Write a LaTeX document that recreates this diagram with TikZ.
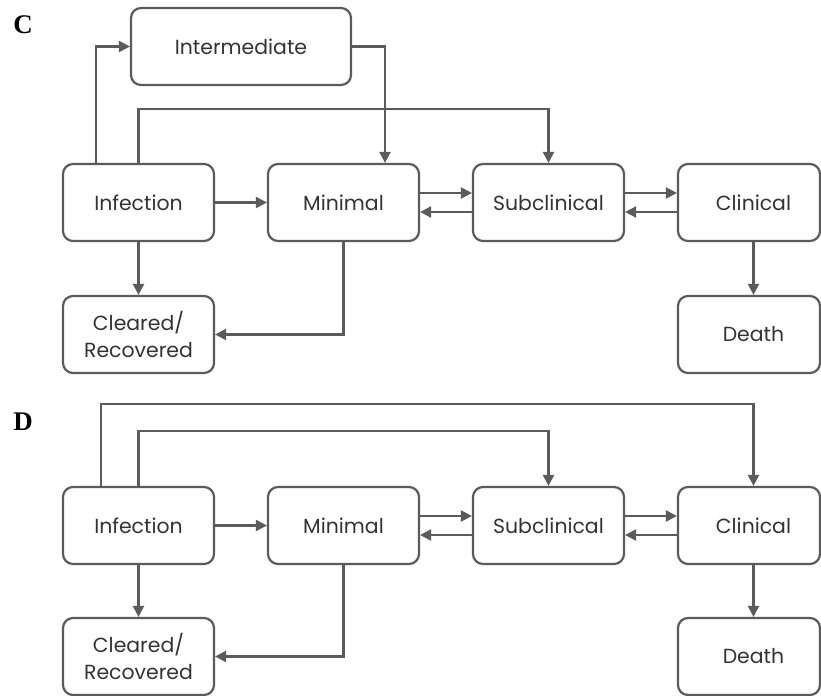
\documentclass[tikz,border=0pt]{standalone}
\usepackage{fontspec}
\setmainfont{Poppins}
\newfontfamily\panelfont{Liberation Serif}
\usetikzlibrary{arrows.meta}
\definecolor{linegray}{HTML}{5B5B5B}
\definecolor{textgray}{HTML}{333333}
\tikzset{
  box/.style={draw=linegray, line width=2.2bp, rounded corners=10bp, rectangle,
    minimum width=151bp, minimum height=77bp, align=center, inner sep=0pt,
    text=textgray, font=\fontsize{20.5}{28}\selectfont},
  narrowbox/.style={box, minimum width=142bp},
  arr/.style={draw=linegray, line width=2.2bp, -{Triangle[length=11bp,width=11bp]}},
  panel/.style={font=\panelfont\bfseries\fontsize{27}{29}\selectfont, inner sep=0pt}
}
\begin{document}
\begin{tikzpicture}[x=1bp,y=1bp]
\useasboundingbox (0,0) rectangle (821,-696);
% Panel C
\node[panel] (labC) at (23,-25) {C};
\node[box, minimum width=220bp] (inter) at (241,-46.5) {Intermediate};
\node[box] (infC) at (138.5,-202.5) {Infection};
\node[box] (minC) at (343.5,-202.5) {Minimal};
\node[box] (subC) at (548.5,-202.5) {Subclinical};
\node[narrowbox] (cliC) at (749,-202.5) {\hspace*{9bp}Clinical};
\node[box] (clrC) at (138.5,-334.5) {Cleared/\\Recovered};
\node[narrowbox] (dthC) at (749,-334.5) {\hspace*{9bp}Death};

\draw[arr] ([xshift=-42.5bp]infC.north) |- (inter.west);
\draw[arr] (inter.east) -| ([xshift=41.5bp]minC.north);
\draw[arr] (infC.north) -- ++(0,54) -| (subC.north);
\draw[arr] (infC) -- (minC);
\draw[arr] ([yshift=9.5bp]minC.east) -- ([yshift=9.5bp]subC.west);
\draw[arr] ([yshift=-9.5bp]subC.west) -- ([yshift=-9.5bp]minC.east);
\draw[arr] ([yshift=9.5bp]subC.east) -- ([yshift=9.5bp]cliC.west);
\draw[arr] ([yshift=-9.5bp]cliC.west) -- ([yshift=-9.5bp]subC.east);
\draw[arr] ([xshift=4.5bp]cliC.south) -- ([xshift=4.5bp]dthC.north);
\draw[arr] (infC) -- (clrC);
\draw[arr] (minC.south) |- (clrC.east);

% Panel D
\node[panel] (labD) at (23,-422) {D};
\node[box] (infD) at (138.5,-525.5) {Infection};
\node[box] (minD) at (343.5,-525.5) {Minimal};
\node[box] (subD) at (548.5,-525.5) {Subclinical};
\node[narrowbox] (cliD) at (749,-525.5) {\hspace*{9bp}Clinical};
\node[box] (clrD) at (138.5,-656.5) {Cleared/\\Recovered};
\node[narrowbox] (dthD) at (749,-656.5) {\hspace*{9bp}Death};

\draw[arr] ([xshift=-37.5bp]infD.north) -- ++(0,82) -| ([xshift=4.5bp]cliD.north);
\draw[arr] (infD.north) -- ++(0,55) -| (subD.north);
\draw[arr] (infD) -- (minD);
\draw[arr] ([yshift=9.5bp]minD.east) -- ([yshift=9.5bp]subD.west);
\draw[arr] ([yshift=-9.5bp]subD.west) -- ([yshift=-9.5bp]minD.east);
\draw[arr] ([yshift=9.5bp]subD.east) -- ([yshift=9.5bp]cliD.west);
\draw[arr] ([yshift=-9.5bp]cliD.west) -- ([yshift=-9.5bp]subD.east);
\draw[arr] ([xshift=4.5bp]cliD.south) -- ([xshift=4.5bp]dthD.north);
\draw[arr] (infD) -- (clrD);
\draw[arr] (minD.south) |- (clrD.east);
\end{tikzpicture}
\end{document}
